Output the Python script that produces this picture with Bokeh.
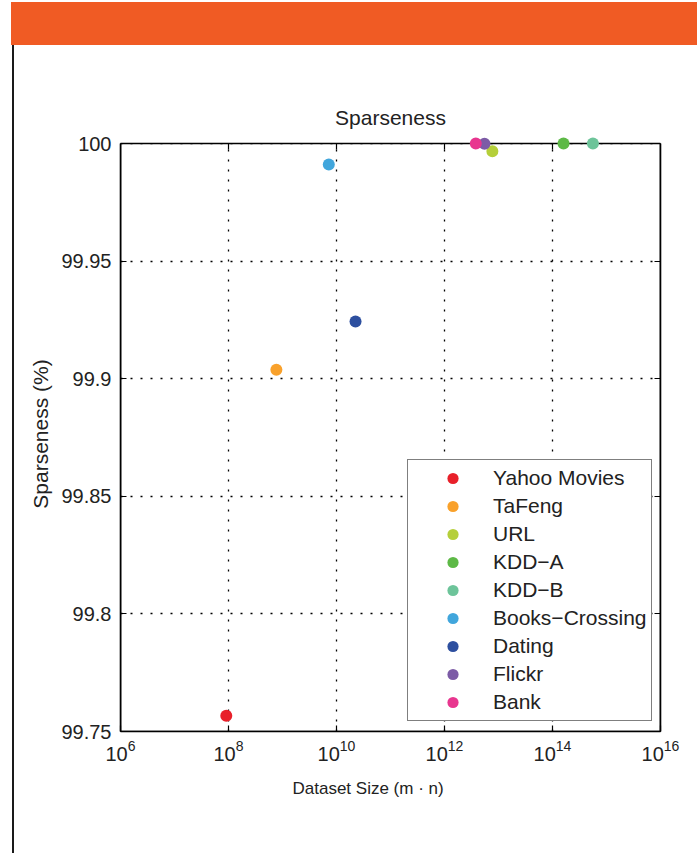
from bokeh.plotting import figure
from bokeh.models import (FixedTicker, LinearAxis, Range1d, Legend, LegendItem, Title,
                          BoxAnnotation, CustomJSTickFormatter, Div, Spacer, ColumnDataSource)
from bokeh.layouts import row, column
from bokeh.embed import file_html
from bokeh.resources import INLINE

# ---- data ----
datasets = ["Yahoo Movies", "TaFeng", "URL", "KDD\u2212A", "KDD\u2212B",
            "Books\u2212Crossing", "Dating", "Flickr", "Bank"]
dataset_size = [9.1e7, 7.7e8, 7.7e12, 1.6e14, 5.6e14, 7.2e9, 2.25e10, 5.5e12, 3.8e12]
sparseness = [99.7567, 99.9038, 99.9967, 100.0, 100.0, 99.9911, 99.9243, 99.9999, 100.0]
colors = ["#e8202a", "#f9a12b", "#b5cf3a", "#5db946", "#6dc49a",
          "#41a6dc", "#2d4f9f", "#7c5ba6", "#e8368f"]
x_ticks = [1e6, 1e8, 1e10, 1e12, 1e14, 1e16]
y_ticks = [99.75, 99.8, 99.85, 99.9, 99.95, 100.0]

FONT = "Liberation Sans"
TXT = "#222222"
Y_PAD = 0.003          # keeps the dots at 100 % from being clipped
TICK_LEN = 0.00255     # inward length of the top ticks, in y units (~6 px)

p = figure(width=683, height=808, x_axis_type="log",
           x_range=Range1d(x_ticks[0], x_ticks[-1]),
           y_range=Range1d(y_ticks[0], y_ticks[-1] + Y_PAD),
           output_backend="svg", toolbar_location=None,
           min_border_left=106, min_border_right=37,
           min_border_top=91, min_border_bottom=122,
           title="Sparseness")
p.outline_line_color = None
p.background_fill_color = "white"
p.border_fill_color = "white"

p.title.text_font = FONT
p.title.text_font_size = "21px"
p.title.text_font_style = "normal"
p.title.text_color = TXT
p.title.align = "center"
p.title.standoff = 15

# axes
p.xaxis.ticker = FixedTicker(ticks=x_ticks, minor_ticks=[])
p.yaxis.ticker = FixedTicker(ticks=y_ticks, minor_ticks=[])
p.yaxis.formatter = CustomJSTickFormatter(code="return tick.toFixed(2).replace(/\\.?0+$/, '');")
p.yaxis.bounds = (y_ticks[0], y_ticks[-1])
for ax in (p.xaxis[0], p.yaxis[0]):
    ax.axis_line_color = "black"
    ax.axis_line_width = 1.6
    ax.major_tick_in = 6
    ax.major_tick_out = 0
    ax.major_tick_line_color = "black"
    ax.major_tick_line_width = 1.2
    ax.minor_tick_line_color = None
    ax.major_label_text_font = FONT
    ax.major_label_text_font_size = "20px"
    ax.major_label_text_color = TXT
    ax.axis_label_text_font = FONT
    ax.axis_label_text_font_style = "normal"
    ax.axis_label_text_color = TXT
p.yaxis.axis_label = "Sparseness (%)"
p.yaxis.axis_label_text_font_size = "21px"
p.xaxis.major_label_standoff = 8
p.yaxis.major_label_standoff = 9
p.yaxis.axis_label_standoff = 6

# x-axis label (slightly left of centre, as in the reference)
xlabel = Title(text="Dataset Size (m \u00b7 n)", align="left", offset=172,
               text_font=FONT, text_font_size="17px", text_font_style="normal",
               text_color=TXT, standoff=27)
p.add_layout(xlabel, "below")

right_ax = LinearAxis(ticker=FixedTicker(ticks=y_ticks, minor_ticks=[]),
                      formatter=CustomJSTickFormatter(code="return '';"),
                      bounds=(y_ticks[0], y_ticks[-1]),
                      axis_line_color="black", axis_line_width=1.6,
                      major_tick_in=6, major_tick_out=0,
                      major_tick_line_color="black", major_tick_line_width=1.2,
                      minor_tick_line_color=None)
p.add_layout(right_ax, "right")

# grid
for g in (p.xgrid[0], p.ygrid[0]):
    g.grid_line_color = "black"
    g.grid_line_dash = "2 8"
    g.grid_line_width = 1.3
    g.grid_line_alpha = 1.0

# white cover above the 100 line (the frame is padded so top dots are not clipped)
cover = BoxAnnotation(bottom=y_ticks[-1], fill_color="white", fill_alpha=1.0,
                      line_color=None, level="underlay")
p.add_layout(cover)
# axes box (top edge)
box = BoxAnnotation(left=x_ticks[0], right=x_ticks[-1], bottom=y_ticks[0], top=y_ticks[-1],
                    fill_alpha=0, line_color="black", line_alpha=1.0, line_width=1.6,
                    level="underlay")
p.add_layout(box)

# inward ticks along the top edge
inner = x_ticks[1:-1]
p.segment(x0=inner, x1=inner, y0=[y_ticks[-1]] * len(inner),
          y1=[y_ticks[-1] - TICK_LEN] * len(inner), line_color="black", line_width=1.2,
          level="underlay")

# points
items = []
for name, xs, ys, c in zip(datasets, dataset_size, sparseness, colors):
    src = ColumnDataSource(dict(x=[xs], y=[ys]))
    r = p.scatter("x", "y", source=src, size=12, fill_color=c, line_color=None)
    items.append(LegendItem(label=name, renderers=[r]))

legend = Legend(items=items, location=(287, 10),
                label_text_font=FONT, label_text_font_size="21px", label_text_color=TXT,
                glyph_width=81, glyph_height=28, label_height=28, label_standoff=0,
                padding=4, spacing=0, margin=0,
                border_line_color="black", border_line_width=1.5,
                background_fill_color="white", background_fill_alpha=1.0)
p.add_layout(legend)

orange = Div(text="", width=686, height=43, margin=0,
             styles={"background-color": "#f05b24"})
vline = Div(text="", width=2, height=808, margin=0,
            styles={"background-color": "#1a1a1a"})
root = column(
    Spacer(width=697, height=2, margin=0),
    row(Spacer(width=11, height=851, margin=0),
        column(orange,
               row(Spacer(width=1, height=808, margin=0), vline, p, spacing=0, margin=0),
               spacing=0, margin=0),
        spacing=0, margin=0),
    spacing=0, margin=0)

open("out.html", "w").write(file_html(root, INLINE))
